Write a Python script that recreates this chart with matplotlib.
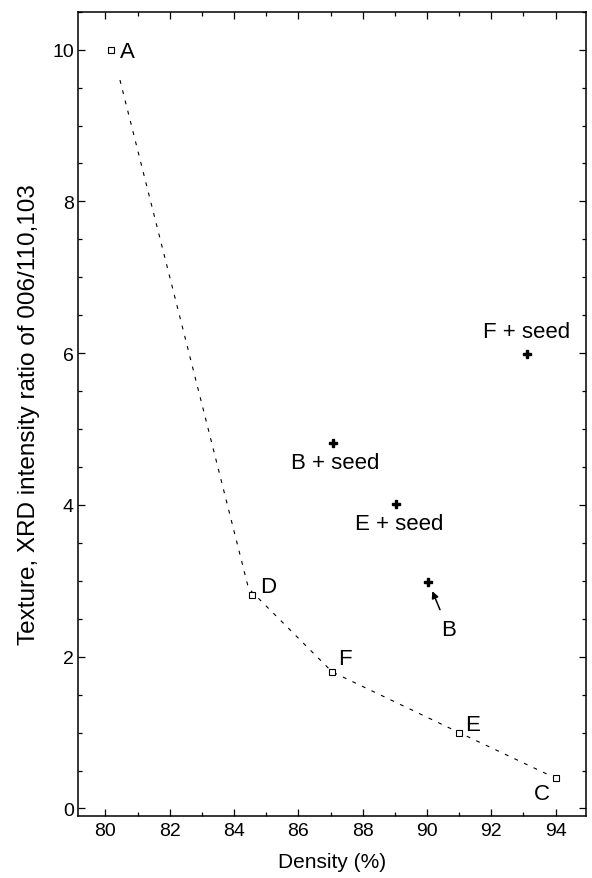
import matplotlib
matplotlib.use('Agg')
import matplotlib.pyplot as plt
from matplotlib.ticker import MultipleLocator

plt.rcParams['font.family'] = ['Liberation Sans', 'DejaVu Sans']

# samples without seed (open squares)
amostras = ['A', 'D', 'F', 'E', 'C']
dens_amostra = [80.18, 84.55, 87.05, 91.0, 94.0]
tex_amostra = [10.0, 2.81, 1.80, 1.0, 0.40]

# guide curve through the unseeded samples
dens_curva = [80.45, 84.45, 87.05, 91.0, 93.9]
tex_curva = [9.6, 2.9, 1.8, 1.0, 0.42]

# seeded / other samples (filled markers)
amostras_seed = ['B + seed', 'E + seed', 'B', 'F + seed']
dens_seed = [87.08, 89.04, 90.04, 93.1]
tex_seed = [4.82, 4.01, 2.99, 5.99]

fig = plt.figure(figsize=(5.92, 8.79), dpi=100)
ax = fig.add_axes([0.132, 0.0705, 0.858, 0.915])

ax.plot(dens_curva, tex_curva, color='black', linewidth=0.8, linestyle=(0, (3.5, 6)))
ax.plot(dens_amostra, tex_amostra, linestyle='none', marker='s', markersize=4,
        markerfacecolor='white', markeredgecolor='black', markeredgewidth=0.8)
ax.plot(dens_seed, tex_seed, linestyle='none', marker='P', markersize=6,
        color='black')

# labels next to the points
fs = 16
ax.text(80.45, 9.97, 'A', fontsize=fs, ha='left', va='center')
ax.text(84.8, 2.92, 'D', fontsize=fs, ha='left', va='center')
ax.text(87.25, 1.97, 'F', fontsize=fs, ha='left', va='center')
ax.text(91.2, 1.11, 'E', fontsize=fs, ha='left', va='center')
ax.text(93.56, 0.2, 'C', fontsize=fs, ha='center', va='center')
ax.text(87.14, 4.56, 'B + seed', fontsize=fs, ha='center', va='center')
ax.text(89.14, 3.75, 'E + seed', fontsize=fs, ha='center', va='center')
ax.text(93.1, 6.28, 'F + seed', fontsize=fs, ha='center', va='center')
ax.annotate('B', xy=(90.15, 2.88), xytext=(90.66, 2.36), fontsize=fs,
            ha='center', va='center',
            arrowprops=dict(arrowstyle='-|>', color='black', lw=1.1,
                            shrinkA=5, shrinkB=1, mutation_scale=10))

ax.set_xlim(79.15, 94.95)
ax.set_ylim(-0.1, 10.5)
ax.xaxis.set_major_locator(MultipleLocator(2))
ax.xaxis.set_minor_locator(MultipleLocator(1))
ax.yaxis.set_major_locator(MultipleLocator(2))
ax.yaxis.set_minor_locator(MultipleLocator(0.5))
ax.tick_params(which='both', direction='in', top=True, right=True, width=0.9)
ax.tick_params(which='major', length=5, labelsize=14, pad=4)
ax.tick_params(which='minor', length=3)
ax.tick_params(axis='y', pad=3)
for s in ax.spines.values():
    s.set_linewidth(1.1)

ax.set_xlabel('Density (%)', fontsize=15, labelpad=10)
ax.set_ylabel('Texture, XRD intensity ratio of 006/110,103', fontsize=17.5, labelpad=9)

fig.savefig('out.png', dpi=100)
plt.close()
